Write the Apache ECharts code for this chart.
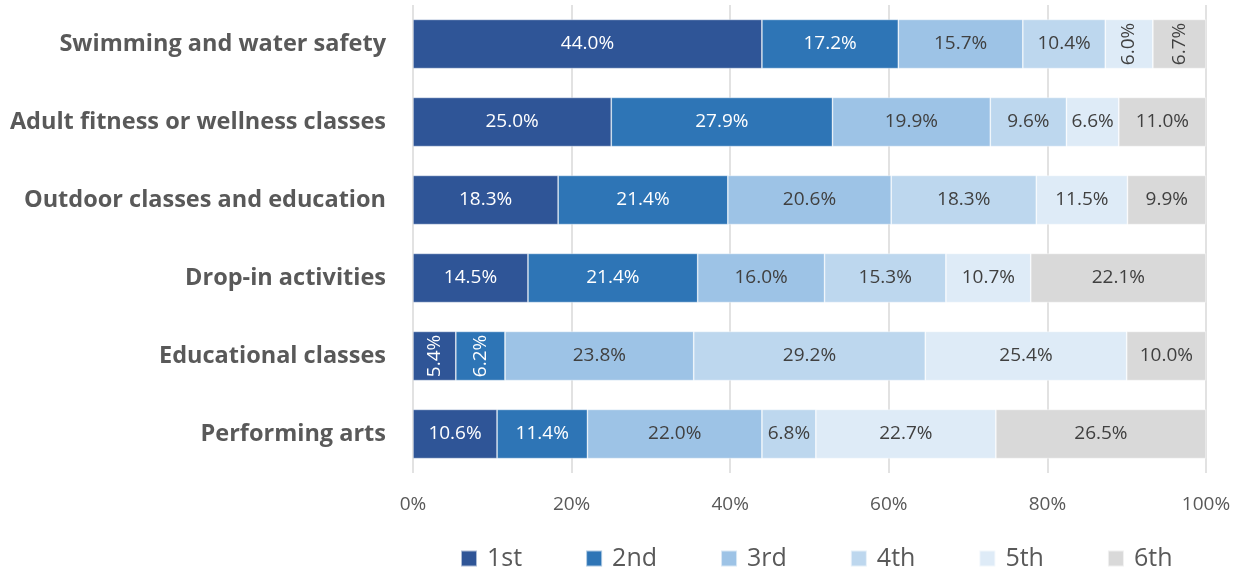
<!DOCTYPE html>
<html>
<head>
<meta charset="utf-8">
<script src="https://cdn.jsdelivr.net/npm/echarts@6/dist/echarts.min.js"></script>
<style>
  html, body { margin: 0; padding: 0; background: #fff; }
  #chart { width: 1243px; height: 567px; }
</style>
</head>
<body>
<div id="chart"></div>
<script>
  // categories, top to bottom
  var categories = [
    'Swimming and water safety',
    'Adult fitness or wellness classes',
    'Outdoor classes and education',
    'Drop-in activities',
    'Educational classes',
    'Performing arts'
  ];
  var rankNames = ['1st', '2nd', '3rd', '4th', '5th', '6th'];

  // percent per rank, one value per category
  var rank1 = [44.0, 25.0, 18.3, 14.5, 5.4, 10.6];
  var rank2 = [17.2, 27.9, 21.4, 21.4, 6.2, 11.4];
  var rank3 = [15.7, 19.9, 20.6, 16.0, 23.8, 22.0];
  var rank4 = [10.4, 9.6, 18.3, 15.3, 29.2, 6.8];
  var rank5 = [6.0, 6.6, 11.5, 10.7, 25.4, 22.7];
  var rank6 = [6.7, 11.0, 9.9, 22.1, 10.0, 26.5];

  var xTicks = [0, 20, 40, 60, 80, 100];

  var colors = ['#2F5597', '#2E75B6', '#9DC3E6', '#BDD7EE', '#DEEBF7', '#D9D9D9'];
  var labelColors = ['#fff', '#fff', '#404040', '#404040', '#404040', '#404040'];
  var font = 'Open Sans';

  // segments too narrow for horizontal text get a vertical label
  var vertical = { '0-4': 1, '0-5': 1, '4-0': 1, '4-1': 1 };

  var allRanks = [rank1, rank2, rank3, rank4, rank5, rank6];

  var series = allRanks.map(function (vals, s) {
    return {
      name: rankNames[s],
      type: 'bar',
      stack: 'total',
      barWidth: '63%',
      itemStyle: { color: colors[s], borderColor: 'rgba(255,255,255,0.6)', borderWidth: 0.7 },
      label: {
        show: true,
        position: 'inside',
        color: labelColors[s],
        fontFamily: font,
        fontSize: 19,
        formatter: function (p) { return p.value.toFixed(1) + '%'; }
      },
      data: vals.map(function (v, c) {
        if (vertical[c + '-' + s]) {
          return { value: v, label: { rotate: 90 } };
        }
        return v;
      })
    };
  });

  var myChart = echarts.init(document.getElementById('chart'));
  myChart.setOption({
    animation: false,
    textStyle: { fontFamily: font },
    grid: { left: 413, right: 37, top: 5, height: 468 },
    legend: {
      data: rankNames,
      top: 541,
      left: 455,
      itemWidth: 16,
      itemHeight: 16,
      itemGap: 63,
      icon: 'rect',
      textStyle: { color: '#595959', fontSize: 25, fontFamily: font, padding: [0, 0, 0, 5] }
    },
    xAxis: {
      type: 'value',
      min: 0,
      max: 100,
      interval: 20,
      axisLine: { show: false },
      axisTick: { show: false },
      splitLine: { lineStyle: { color: '#D9D9D9', width: 1.5 } },
      axisLabel: {
        color: '#595959',
        fontSize: 19,
        margin: 22,
        formatter: function (v) { return xTicks.indexOf(v) >= 0 ? v + '%' : ''; }
      }
    },
    yAxis: {
      type: 'category',
      inverse: true,
      data: categories,
      axisLine: { show: false },
      axisTick: { show: false },
      axisLabel: {
        color: '#595959',
        fontSize: 23.5,
        fontWeight: 'bold',
        margin: 27
      }
    },
    series: series
  });
  window.onresize = myChart.resize;
</script>
</body>
</html>
